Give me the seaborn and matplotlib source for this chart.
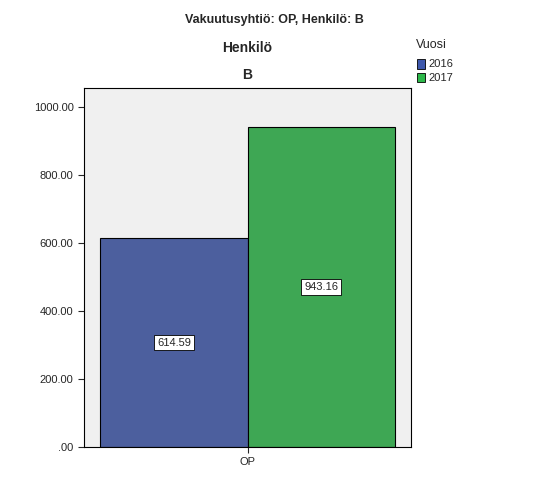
import pandas as pd
import matplotlib
matplotlib.use("Agg")
import matplotlib.pyplot as plt
import seaborn as sns
from matplotlib.ticker import FuncFormatter

# data
companies = ["OP", "OP"]
years = ["2016", "2017"]
values = [614.59, 943.16]
colors = ["#3E58AC", "#2DB84A"]


def fmt(v, pos):
    s = "%.2f" % v
    return s[1:] if s.startswith("0") else s


def main():
    sns.set_style("white")
    plt.rcParams["font.family"] = ["Liberation Sans", "DejaVu Sans"]

    data = pd.DataFrame({"Vakuutusyhtiö": companies, "Vuosi": years, "Arvo": values})

    fig = plt.figure(figsize=(5.49, 5.04), dpi=100)
    ax = fig.add_axes([0.153, 0.113, 0.596, 0.712])
    ax.set_facecolor("#F0F0F0")

    sns.barplot(data=data, x="Vakuutusyhtiö", y="Arvo", hue="Vuosi",
                palette=colors, width=0.9, edgecolor="black", linewidth=0.8,
                ax=ax, legend=False)

    # value labels in boxes
    for cont in ax.containers:
        for bar in cont:
            h = bar.get_height()
            ax.text(bar.get_x() + bar.get_width() / 2, h / 2, "%.2f" % h,
                    ha="center", va="center", fontsize=8,
                    bbox=dict(facecolor="white", edgecolor="black", linewidth=0.6, pad=2))

    ax.set_xlim(-0.5, 0.5)
    ax.set_ylim(0, 1056)
    ax.set_yticks([0, 200, 400, 600, 800, 1000])
    ax.yaxis.set_major_formatter(FuncFormatter(fmt))
    ax.tick_params(axis="both", labelsize=8, length=4, left=True, bottom=True)
    ax.set_xlabel("")
    ax.set_ylabel("")
    for s in ax.spines.values():
        s.set_color("black")
        s.set_linewidth(0.8)

    fig.text(0.5, 0.96, "Vakuutusyhtiö: OP, Henkilö: B", ha="center", va="center",
             fontsize=9, fontweight="bold")
    fig.text(0.451, 0.905, "Henkilö", ha="center", va="center", fontsize=10, fontweight="bold")
    fig.text(0.451, 0.851, "B", ha="center", va="center", fontsize=10, fontweight="bold")

    # legend
    fig.text(0.757, 0.91, "Vuosi", ha="left", va="center", fontsize=9)
    for i, (yr, c) in enumerate(zip(years, colors)):
        y = 0.873 - i * 0.027
        fig.patches.append(plt.Rectangle((0.759, y - 0.009), 0.016, 0.018, transform=fig.transFigure,
                                         facecolor=c, edgecolor="black", linewidth=0.6))
        fig.text(0.78, y, yr, ha="left", va="center", fontsize=8)

    plt.savefig("out.png", dpi=100)


if __name__ == "__main__":
    main()
